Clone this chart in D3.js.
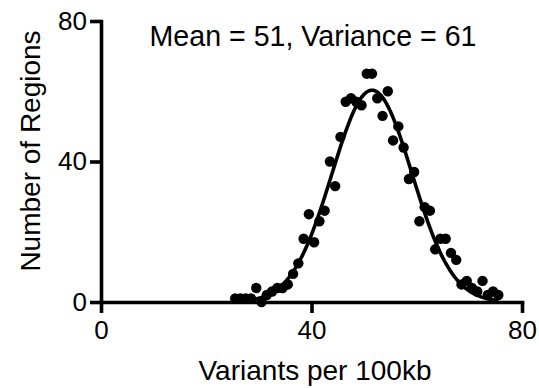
<!DOCTYPE html>
<html>
<head>
<meta charset="utf-8">
<script src="https://cdn.jsdelivr.net/npm/d3@7"></script>
<style>
  html, body { margin: 0; padding: 0; background: #fff; }
  svg text { font-family: "Liberation Sans", Arial, Helvetica, sans-serif; fill: #000; }
</style>
</head>
<body>
<div id="chart"></div>
<script>
// bin centres (variants per 100kb) and number of regions in each bin
var binMid = [25.5, 26.5, 27.5, 28.5, 29.5, 30.5, 31.5, 32.5, 33.5, 34.5,
              35.5, 36.5, 37.5, 38.5, 39.5, 40.5, 41.5, 42.5, 43.5, 44.5,
              45.5, 46.5, 47.5, 48.5, 49.5, 50.5, 51.5, 52.5, 53.5, 54.5,
              55.5, 56.5, 57.5, 58.5, 59.5, 60.5, 61.5, 62.5, 63.5, 64.5,
              65.5, 66.5, 67.5, 68.5, 69.5, 70.5, 71.5, 72.5, 73.5, 74.5, 75.5];
var regionCounts = [1, 1, 1, 1, 4, 0, 2, 3, 4, 4,
                    5, 8, 11, 18, 25, 17, 23, 26, 40, 33,
                    47, 57, 58, 57, 56, 65, 65, 58, 53, 60,
                    46, 50, 44, 35, 37, 23, 27, 26, 15, 18,
                    18, 14, 12, 5, 6, 4, 3, 6, 2, 3, 2];

// gaussian fit shown as the line
var fitMean = 51.5, fitSD = 7.6, fitPeak = 60.3;

var xTicks = [0, 40, 80];
var yTicks = [0, 40, 80];
var titleText = "Mean = 51, Variance = 61";
var xTitle = "Variants per 100kb";
var yTitle = "Number of Regions";

var W = 539, H = 388;
var svg = d3.select("#chart").append("svg")
    .attr("width", W).attr("height", H);

var x = d3.scaleLinear().domain([0, 80]).range([101, 522]);
var y = d3.scaleLinear().domain([0, 80]).range([302, 21]);

var data = binMid.map(function(d, i) { return {x: d, y: regionCounts[i]}; });

// axes
var xAxis = svg.append("g")
    .attr("transform", "translate(0," + y(0) + ")")
    .call(d3.axisBottom(x).tickValues(xTicks).tickSize(11).tickPadding(8).tickSizeOuter(0));
var yAxis = svg.append("g")
    .attr("transform", "translate(" + x(0) + ",0)")
    .call(d3.axisLeft(y).tickValues(yTicks).tickSize(11).tickPadding(3).tickSizeOuter(0));

[xAxis, yAxis].forEach(function(a) {
    a.select(".domain").attr("stroke", "#000").attr("stroke-width", 3.6).attr("stroke-linecap", "square");
    a.selectAll(".tick line").attr("stroke", "#000").attr("stroke-width", 3.6);
    a.selectAll(".tick text").style("font-size", "26px").attr("fill", "#000");
});

// fitted curve
var curveX = d3.range(binMid[0], binMid[binMid.length - 1] + 0.01, 0.25);
var line = d3.line()
    .x(function(d) { return x(d); })
    .y(function(d) { return y(fitPeak * Math.exp(-Math.pow(d - fitMean, 2) / (2 * fitSD * fitSD))); })
    .curve(d3.curveBasis);
svg.append("path")
    .datum(curveX)
    .attr("d", line)
    .attr("fill", "none")
    .attr("stroke", "#000")
    .attr("stroke-width", 3.6);

// points
svg.append("g").selectAll("circle")
    .data(data)
    .enter()
    .append("circle")
    .attr("cx", function(d) { return x(d.x); })
    .attr("cy", function(d) { return y(d.y); })
    .attr("r", 5.2)
    .attr("fill", "#000");

// titles
svg.append("text")
    .attr("x", 313).attr("y", 46)
    .attr("text-anchor", "middle")
    .style("font-size", "28.6px")
    .text(titleText);

svg.append("text")
    .attr("x", 315).attr("y", 380)
    .attr("text-anchor", "middle")
    .style("font-size", "28px")
    .text(xTitle);

svg.append("text")
    .attr("transform", "translate(40,151) rotate(-90)")
    .attr("text-anchor", "middle")
    .style("font-size", "28px")
    .text(yTitle);
</script>
</body>
</html>
